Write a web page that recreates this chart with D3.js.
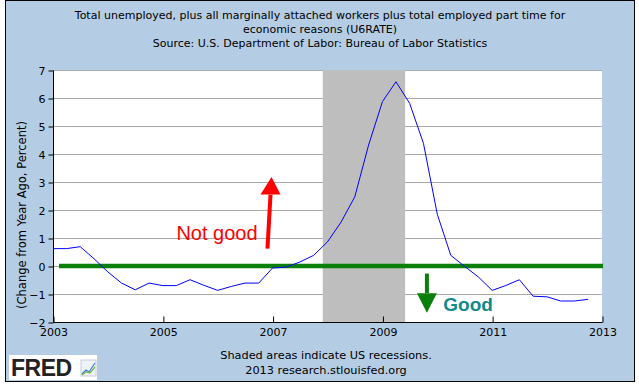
<!DOCTYPE html>
<html>
<head>
<meta charset="utf-8">
<script src="https://cdn.jsdelivr.net/npm/d3@7"></script>
<style>
  html, body { margin: 0; padding: 0; background: #fff; }
  svg { display: block; font-family: "DejaVu Sans", Verdana, sans-serif; }
</style>
</head>
<body>
<div id="chart"></div>
<script>
// quarterly observations, change from year ago (percent)
const quarters = [
  "2003-01-01", "2003-04-01", "2003-07-01", "2003-10-01",
  "2004-01-01", "2004-04-01", "2004-07-01", "2004-10-01",
  "2005-01-01", "2005-04-01", "2005-07-01", "2005-10-01",
  "2006-01-01", "2006-04-01", "2006-07-01", "2006-10-01",
  "2007-01-01", "2007-04-01", "2007-07-01", "2007-10-01",
  "2008-01-01", "2008-04-01", "2008-07-01", "2008-10-01",
  "2009-01-01", "2009-04-01", "2009-07-01", "2009-10-01",
  "2010-01-01", "2010-04-01", "2010-07-01", "2010-10-01",
  "2011-01-01", "2011-04-01", "2011-07-01", "2011-10-01",
  "2012-01-01", "2012-04-01", "2012-07-01", "2012-10-01"
];
const u6Change = [
  0.62, 0.62, 0.69, 0.26,
  -0.21, -0.61, -0.85, -0.61,
  -0.70, -0.70, -0.49, -0.69,
  -0.87, -0.73, -0.61, -0.61,
  -0.07, -0.04, 0.14, 0.38,
  0.86, 1.57, 2.47, 4.32,
  5.87, 6.58, 5.81, 4.38,
  1.85, 0.38, -0.01, -0.39,
  -0.87, -0.70, -0.49, -1.08,
  -1.10, -1.25, -1.25, -1.19
];
const recessions = [["2007-12-01", "2009-06-01"]];
const yTicks = [-2, -1, 0, 1, 2, 3, 4, 5, 6, 7];
const xTickYears = [2003, 2005, 2007, 2009, 2011, 2013];

const titleLines = [
  "Total unemployed, plus all marginally attached workers plus total employed part time for",
  "economic reasons (U6RATE)",
  "Source: U.S. Department of Labor: Bureau of Labor Statistics"
];
const yLabel = "(Change from Year Ago, Percent)";
const footerLines = ["Shaded areas indicate US recessions.", "2013 research.stlouisfed.org"];

const W = 639, H = 386;
const plot = { left: 53, right: 602, top: 70, bottom: 322 };

const parse = d3.timeParse("%Y-%m-%d");
const data = quarters.map((q, i) => ({ date: parse(q), value: u6Change[i] }));

const svg = d3.select("#chart").append("svg")
  .attr("width", W).attr("height", H);

// frame
svg.append("rect")
  .attr("x", 5.5).attr("y", 0.5)
  .attr("width", 629).attr("height", 381)
  .attr("fill", "#b5cde4").attr("stroke", "#000");

const x = d3.scaleTime()
  .domain([new Date(2003, 0, 1), new Date(2013, 0, 1)])
  .range([plot.left, plot.right]);
const y = d3.scaleLinear()
  .domain([-2, 7])
  .range([plot.bottom, plot.top]);

svg.append("rect")
  .attr("x", plot.left).attr("y", plot.top)
  .attr("width", plot.right - plot.left).attr("height", plot.bottom - plot.top)
  .attr("fill", "#fff");

// grid
svg.append("g")
  .selectAll("line")
  .data(yTicks.filter(d => d > -2))
  .join("line")
  .attr("x1", plot.left).attr("x2", plot.right)
  .attr("y1", d => Math.round(y(d)) + 0.5).attr("y2", d => Math.round(y(d)) + 0.5)
  .attr("stroke", "#aaa");

// recession shading
svg.append("g")
  .selectAll("rect")
  .data(recessions)
  .join("rect")
  .attr("x", d => x(parse(d[0])))
  .attr("y", plot.top)
  .attr("width", d => x(parse(d[1])) - x(parse(d[0])))
  .attr("height", plot.bottom - plot.top)
  .attr("fill", "#bebebe");

// axes
const yAxis = svg.append("g")
  .attr("transform", `translate(${plot.left + 0.5},0.5)`)
  .call(d3.axisLeft(y).tickValues(yTicks).tickSize(5).tickPadding(3).tickFormat(d3.format("d")));
yAxis.select(".domain").attr("d", `M0,${plot.top}V${plot.bottom}`);

const xAxis = svg.append("g")
  .attr("transform", `translate(0.5,${plot.bottom + 0.5})`)
  .call(d3.axisBottom(x)
    .tickValues(xTickYears.map(yr => new Date(yr, 0, 1)))
    .tickSize(-6).tickPadding(5).tickFormat(d3.timeFormat("%Y")));
xAxis.select(".domain").attr("d", `M${plot.left},0H${plot.right}`);

[yAxis, xAxis].forEach(a => {
  a.selectAll("text").attr("font-size", 11).attr("font-family", "DejaVu Sans, sans-serif").attr("fill", "#000");
  a.selectAll("line, path").attr("stroke", "#000");
});
xAxis.selectAll("text").attr("dy", "0.71em").attr("y", 6);

// zero reference line (annotation)
svg.append("line")
  .attr("x1", x(new Date(2003, 1, 10))).attr("x2", x(new Date(2013, 0, 8)))
  .attr("y1", y(0)).attr("y2", y(0))
  .attr("stroke", "#0a800a").attr("stroke-width", 4.5);

// series
const line = d3.line()
  .x(d => x(d.date))
  .y(d => y(d.value));
svg.append("path")
  .datum(data)
  .attr("d", line)
  .attr("fill", "none")
  .attr("stroke", "#0000ff")
  .attr("stroke-width", 1);

// annotations in data coordinates
function arrow(color, date, from, baseAt, tip) {
  const xb = x(date.from), xt = x(date.to);
  const yb = y(from), yh = y(baseAt), yt = y(tip);
  const xh = xb + (xt - xb) * (yb - yh) / (yb - yt);
  svg.append("line")
    .attr("x1", xb).attr("y1", yb).attr("x2", xh).attr("y2", yh)
    .attr("stroke", color).attr("stroke-width", 4);
  svg.append("path")
    .attr("d", `M${xt},${yt}L${xh - 10},${yh}L${xh + 10},${yh}Z`)
    .attr("fill", color);
}
arrow("#ff0000", { from: new Date(2006, 10, 28), to: new Date(2006, 11, 25) }, 0.62, 2.55, 3.18);
arrow("#0a800a", { from: new Date(2009, 9, 24), to: new Date(2009, 9, 24) }, -0.27, -0.97, -1.67);

svg.append("text")
  .attr("x", x(new Date(2005, 3, 1))).attr("y", y(0.92))
  .attr("font-family", "Liberation Sans, Arial, sans-serif")
  .attr("font-size", 20).attr("fill", "#ff0000")
  .text("Not good");
svg.append("text")
  .attr("x", x(new Date(2010, 1, 10))).attr("y", y(-1.61))
  .attr("font-family", "Liberation Sans, Arial, sans-serif")
  .attr("font-size", 19).attr("font-weight", "bold").attr("fill", "#138a8a")
  .text("Good");

// title
svg.append("g")
  .selectAll("text")
  .data(titleLines)
  .join("text")
  .attr("x", 320).attr("y", (d, i) => 19 + i * 14)
  .attr("text-anchor", "middle").attr("font-size", 11)
  .text(d => d);

// y label
svg.append("text")
  .attr("transform", `translate(26,215) rotate(-90)`)
  .attr("text-anchor", "middle").attr("font-size", 11.5)
  .text(yLabel);

// footer
svg.append("g")
  .selectAll("text")
  .data(footerLines)
  .join("text")
  .attr("x", 326).attr("y", (d, i) => 359 + i * 15)
  .attr("text-anchor", "middle").attr("font-size", 11.3)
  .text(d => d);

// FRED logo
const logo = svg.append("g").attr("transform", "translate(9,355)");
logo.append("rect").attr("width", 88).attr("height", 25).attr("fill", "#fff");
logo.append("text")
  .attr("x", 2).attr("y", 21)
  .attr("font-family", "Liberation Sans, Arial, sans-serif")
  .attr("font-weight", "bold").attr("font-size", 23).attr("fill", "#222")
  .attr("letter-spacing", -0.5)
  .text("FRED");
const spark = logo.append("g").attr("transform", "translate(72,5)");
spark.append("rect").attr("width", 15).attr("height", 16).attr("fill", "#eef3f8").attr("stroke", "#ccd");
spark.append("path").attr("d", "M1,14L5,10L8,12L14,3").attr("fill", "none").attr("stroke", "#3a7bd5").attr("stroke-width", 1.2);
spark.append("path").attr("d", "M1,15L5,12L9,13L14,7").attr("fill", "none").attr("stroke", "#7ab648").attr("stroke-width", 1.2);
</script>
</body>
</html>
